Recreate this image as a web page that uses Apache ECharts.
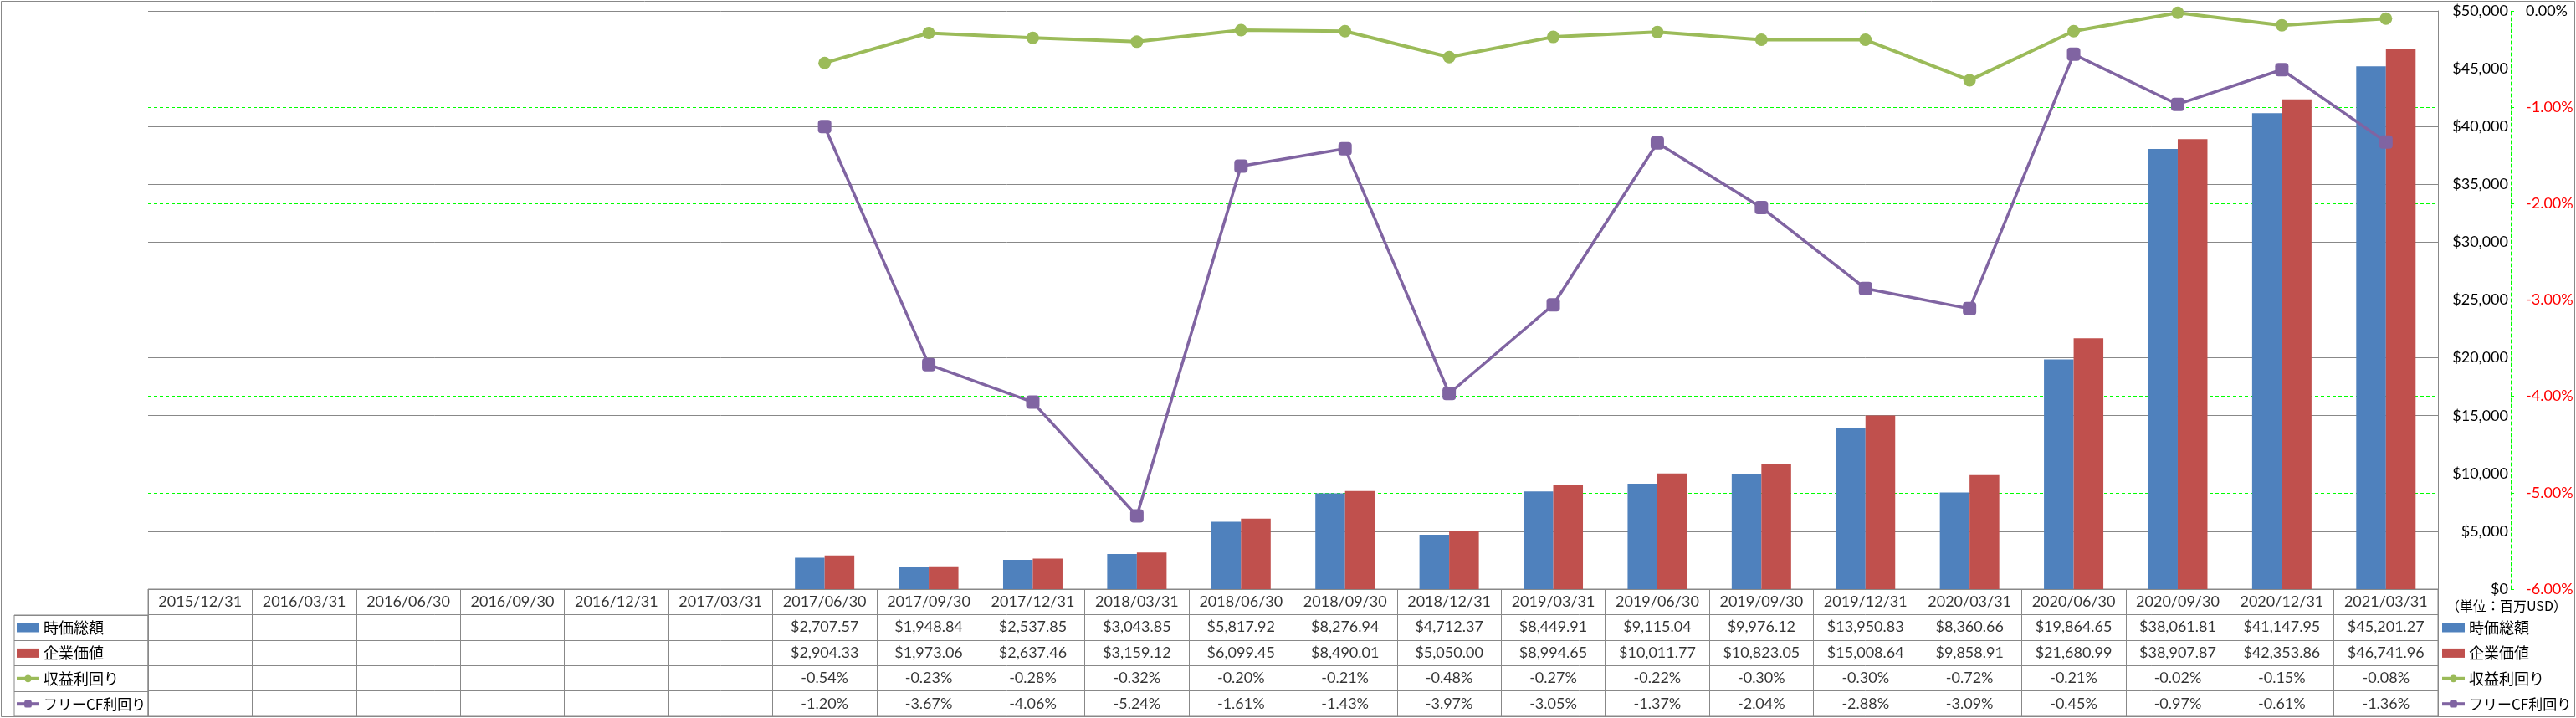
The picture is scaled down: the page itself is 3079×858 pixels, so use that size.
<!DOCTYPE html>
<html>
<head>
<meta charset="utf-8">
<script src="https://cdn.jsdelivr.net/npm/echarts@6/dist/echarts.min.js"></script>
<style>
html,body{margin:0;padding:0;background:#fff;}
#chart{width:3079px;height:858px;}
</style>
</head>
<body>
<div id="chart"></div>
<script>
const categories = ['2015/12/31','2016/03/31','2016/06/30','2016/09/30','2016/12/31','2017/03/31','2017/06/30','2017/09/30','2017/12/31','2018/03/31','2018/06/30','2018/09/30','2018/12/31','2019/03/31','2019/06/30','2019/09/30','2019/12/31','2020/03/31','2020/06/30','2020/09/30','2020/12/31','2021/03/31'];
const marketCap = [null,null,null,null,null,null,2707.57,1948.84,2537.85,3043.85,5817.92,8276.94,4712.37,8449.91,9115.04,9976.12,13950.83,8360.66,19864.65,38061.81,41147.95,45201.27];
const enterpriseValue = [null,null,null,null,null,null,2904.33,1973.06,2637.46,3159.12,6099.45,8490.01,5050.00,8994.65,10011.77,10823.05,15008.64,9858.91,21680.99,38907.87,42353.86,46741.96];
const earningsYield = [null,null,null,null,null,null,-0.54,-0.23,-0.28,-0.32,-0.20,-0.21,-0.48,-0.27,-0.22,-0.30,-0.30,-0.72,-0.21,-0.02,-0.15,-0.08];
const fcfYield = [null,null,null,null,null,null,-1.20,-3.67,-4.06,-5.24,-1.61,-1.43,-3.97,-3.05,-1.37,-2.04,-2.88,-3.09,-0.45,-0.97,-0.61,-1.36];
const seriesNames = ['時価総額','企業価値','収益利回り','フリーCF利回り'];
const leftTicks = ['$0','$5,000','$10,000','$15,000','$20,000','$25,000','$30,000','$35,000','$40,000','$45,000','$50,000'];
const rightTicks = ['-6.00%','-5.00%','-4.00%','-3.00%','-2.00%','-1.00%','0.00%'];
const unitLabel = '（単位：百万USD）';

const NUM_FONT = 'Lato, "Noto Sans CJK JP", sans-serif';
const JP_FONT = '"Noto Sans CJK JP", sans-serif';
const GRAY = '#888888';

const fmtMoney = v => '$' + v.toLocaleString('en-US', {minimumFractionDigits: 2, maximumFractionDigits: 2});
const fmtPct = v => v.toFixed(2) + '%';

// table cell texts
const cells = [];
categories.forEach((c, i) => {
  cells.push([i, 0, c]);
  if (marketCap[i] != null) cells.push([i, 1, fmtMoney(marketCap[i])]);
  if (enterpriseValue[i] != null) cells.push([i, 2, fmtMoney(enterpriseValue[i])]);
  if (earningsYield[i] != null) cells.push([i, 3, fmtPct(earningsYield[i])]);
  if (fcfYield[i] != null) cells.push([i, 4, fmtPct(fcfYield[i])]);
});

const legendBase = {
  orient: 'vertical',
  itemWidth: 27,
  itemHeight: 11,
  itemGap: 10.4,
  top: 740,
  height: 400,
  padding: 0,
  textStyle: {fontFamily: JP_FONT, fontSize: 18, color: '#000', lineHeight: 20},
  data: [
    {name: seriesNames[0], icon: 'rect'},
    {name: seriesNames[1], icon: 'rect'},
    {name: seriesNames[2]},
    {name: seriesNames[3], textStyle: {fontSize: 17}}
  ],
  lineStyle: {width: 4},
  selectedMode: false
};

const chart = echarts.init(document.getElementById('chart'));
chart.setOption({
  animation: false,
  backgroundColor: '#fff',
  title: {
    text: unitLabel, left: 2924, top: 716, padding: 0,
    textStyle: {fontFamily: JP_FONT, fontSize: 16, fontWeight: 'normal', color: '#000'}
  },
  legend: [
    Object.assign({}, legendBase, {left: 18}),
    Object.assign({}, legendBase, {left: 2917})
  ],
  grid: [
    {left: 177, right: 165, top: 13, bottom: 154, show: false},
    {left: 177, right: 165, top: 704, bottom: 2, show: true, borderColor: GRAY, borderWidth: 1, backgroundColor: 'transparent'},
    {left: 17, width: 160, top: 735, bottom: 2, show: true, borderColor: GRAY, borderWidth: 1, backgroundColor: 'transparent'}
  ],
  xAxis: [
    {type: 'category', gridIndex: 0, data: categories, axisLine: {show: false}, axisTick: {show: false}, axisLabel: {show: false}},
    {type: 'category', gridIndex: 1, data: categories, axisLine: {show: false}, axisTick: {show: false}, axisLabel: {show: false},
     splitLine: {show: true, interval: 0, lineStyle: {color: GRAY, width: 1}}},
    {type: 'category', gridIndex: 2, data: [''], axisLine: {show: false}, axisTick: {show: false}, axisLabel: {show: false}}
  ],
  yAxis: [
    {type: 'value', gridIndex: 0, position: 'right', min: 0, max: 50000, interval: 5000, z: 1,
     axisLine: {show: true, lineStyle: {color: GRAY, width: 1}}, axisTick: {show: false},
     axisLabel: {margin: 84, align: 'right', fontFamily: NUM_FONT, fontSize: 18, color: '#000',
       formatter: (v, i) => leftTicks[i]},
     splitLine: {show: true, lineStyle: {color: GRAY, width: 1}}},
    {type: 'value', gridIndex: 0, position: 'right', offset: 87, min: -6, max: 0, interval: 1, z: 0,
     axisLine: {show: true, lineStyle: {color: '#00FF00', width: 1, type: [4, 3]}},
     axisTick: {show: true, inside: false, length: 4, lineStyle: {color: '#00FF00', width: 1}},
     axisLabel: {margin: 18, align: 'left', fontFamily: NUM_FONT, fontSize: 18,
       color: v => (Number(v) === 0 ? '#000000' : '#FF0000'),
       formatter: (v, i) => rightTicks[i]},
     splitLine: {show: true, lineStyle: {color: '#00FF00', width: 1, type: [4, 3]}}},
    {type: 'category', gridIndex: 1, inverse: true, data: ['h','r1','r2','r3','r4'],
     axisLine: {show: false}, axisTick: {show: false}, axisLabel: {show: false},
     splitLine: {show: true, interval: 0, lineStyle: {color: GRAY, width: 1}}},
    {type: 'category', gridIndex: 2, inverse: true, data: ['r1','r2','r3','r4'],
     axisLine: {show: false}, axisTick: {show: false}, axisLabel: {show: false},
     splitLine: {show: true, interval: 0, lineStyle: {color: GRAY, width: 1}}}
  ],
  series: [
    {name: seriesNames[0], type: 'bar', xAxisIndex: 0, yAxisIndex: 0, data: marketCap,
     barWidth: 35.5, barGap: '0%', itemStyle: {color: '#4F81BD'}, z: 2},
    {name: seriesNames[1], type: 'bar', xAxisIndex: 0, yAxisIndex: 0, data: enterpriseValue,
     barWidth: 35.5, barGap: '0%', itemStyle: {color: '#C0504D'}, z: 2},
    {name: seriesNames[2], type: 'line', xAxisIndex: 0, yAxisIndex: 1, data: earningsYield,
     symbol: 'circle', symbolSize: 15, lineStyle: {color: '#9BBB59', width: 4},
     itemStyle: {color: '#9BBB59'}, z: 4},
    {name: seriesNames[3], type: 'line', xAxisIndex: 0, yAxisIndex: 1, data: fcfYield,
     symbol: 'roundRect', symbolSize: 16, lineStyle: {color: '#8064A2', width: 3.5},
     itemStyle: {color: '#8064A2'}, z: 4},
    {type: 'scatter', xAxisIndex: 1, yAxisIndex: 2, data: cells, symbolSize: 1,
     itemStyle: {color: 'rgba(0,0,0,0)'}, silent: true,
     label: {show: true, position: 'inside', formatter: p => p.value[2],
       fontFamily: NUM_FONT, fontSize: 18, color: '#000'}}
  ],
  graphic: [
    {type: 'rect', shape: {x: 1.5, y: 1.5, width: 3076, height: 855}, style: {fill: 'none', stroke: GRAY, lineWidth: 1}, silent: true}
  ]
});
</script>
</body>
</html>
